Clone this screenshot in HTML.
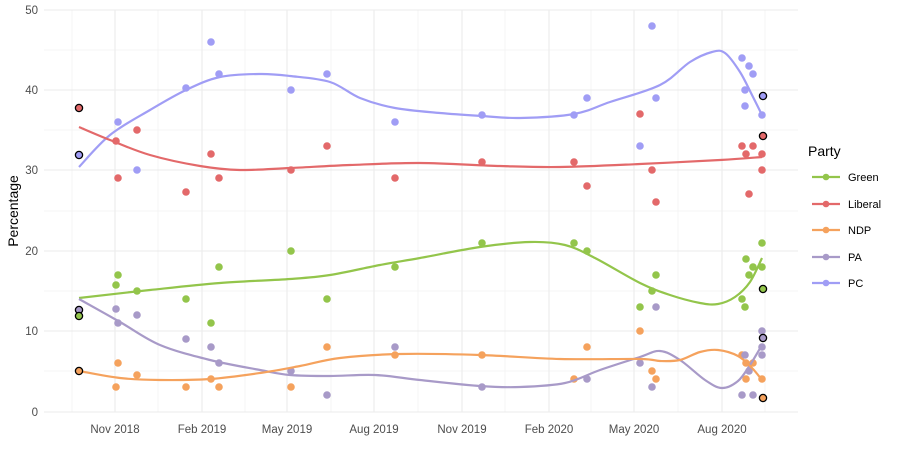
<!DOCTYPE html>
<html><head><meta charset="utf-8"><style>
body{margin:0;background:#fff;font-family:"Liberation Sans",sans-serif}
</style></head><body>
<svg id="s" width="900" height="460" xmlns="http://www.w3.org/2000/svg" font-family="Liberation Sans, sans-serif">
<g stroke="#f3f3f3" stroke-width="0.8">
<line x1="44" x2="798" y1="50" y2="50"/><line x1="44" x2="798" y1="130" y2="130"/><line x1="44" x2="798" y1="211" y2="211"/><line x1="44" x2="798" y1="291" y2="291"/><line x1="44" x2="798" y1="371" y2="371"/>
<line y1="10" y2="412" x1="72" x2="72"/><line y1="10" y2="412" x1="158" x2="158"/><line y1="10" y2="412" x1="245" x2="245"/><line y1="10" y2="412" x1="331" x2="331"/><line y1="10" y2="412" x1="418" x2="418"/><line y1="10" y2="412" x1="505" x2="505"/><line y1="10" y2="412" x1="591" x2="591"/><line y1="10" y2="412" x1="678" x2="678"/><line y1="10" y2="412" x1="765" x2="765"/>
</g>
<g stroke="#ebebeb" stroke-width="1.1">
<line x1="44" x2="798" y1="10" y2="10"/><line x1="44" x2="798" y1="90" y2="90"/><line x1="44" x2="798" y1="170" y2="170"/><line x1="44" x2="798" y1="251" y2="251"/><line x1="44" x2="798" y1="331" y2="331"/><line x1="44" x2="798" y1="412" y2="412"/>
<line y1="10" y2="412" x1="115" x2="115"/><line y1="10" y2="412" x1="202" x2="202"/><line y1="10" y2="412" x1="287" x2="287"/><line y1="10" y2="412" x1="374" x2="374"/><line y1="10" y2="412" x1="462" x2="462"/><line y1="10" y2="412" x1="549" x2="549"/><line y1="10" y2="412" x1="634" x2="634"/><line y1="10" y2="412" x1="722" x2="722"/>
</g>
<g font-size="11.5" fill="#4d4d4d" text-anchor="end">
<text x="38" y="14">50</text><text x="38" y="94">40</text><text x="38" y="174">30</text><text x="38" y="255">20</text><text x="38" y="335">10</text><text x="38" y="416">0</text>
</g>
<g font-size="11.5" fill="#4d4d4d" text-anchor="middle">
<text x="115" y="433">Nov 2018</text><text x="202" y="433">Feb 2019</text><text x="287" y="433">May 2019</text><text x="374" y="433">Aug 2019</text><text x="462" y="433">Nov 2019</text><text x="549" y="433">Feb 2020</text><text x="634" y="433">May 2020</text><text x="722" y="433">Aug 2020</text>
</g>
<text transform="translate(18,211) rotate(-90)" font-size="14" text-anchor="middle" fill="#000">Percentage</text>
<g id="pts"></g><g id="lines"></g><g id="el"></g>
<text x="808" y="156" font-size="14">Party</text>
<g id="leg" font-size="11"></g>
</svg>
<script>
var C={G:"#93c54b",L:"#e3696a",N:"#f5a25d",A:"#a89ac8",P:"#a09df5"};
var ns="http://www.w3.org/2000/svg";
function el(t,a,p){var e=document.createElementNS(ns,t);for(var k in a)e.setAttribute(k,a[k]);document.getElementById(p).appendChild(e);return e;}
var pts=[
[118,122,"P"],[116,141,"L"],[118,178,"L"],[118,275,"G"],[116,285,"G"],[116,309,"A"],[118,323,"A"],[118,363,"N"],[116,387,"N"],
[137,130,"L"],[137,170,"P"],[137,291,"G"],[137,315,"A"],[137,375,"N"],
[186,88,"P"],[186,192,"L"],[186,299,"G"],[186,339,"A"],[186,387,"N"],
[211,42,"P"],[211,154,"L"],[211,323,"G"],[211,347,"A"],[211,379,"N"],
[219,74,"P"],[219,178,"L"],[219,267,"G"],[219,363,"A"],[219,387,"N"],
[291,90,"P"],[291,170,"L"],[291,251,"G"],[291,371,"A"],[291,387,"N"],
[327,74,"P"],[327,146,"L"],[327,299,"G"],[327,347,"N"],[327,395,"A"],
[395,122,"P"],[395,178,"L"],[395,267,"G"],[395,347,"A"],[395,355,"N"],
[482,115,"P"],[482,162,"L"],[482,243,"G"],[482,355,"N"],[482,387,"A"],
[574,115,"P"],[574,162,"L"],[574,243,"G"],[574,379,"N"],
[587,98,"P"],[587,186,"L"],[587,251,"G"],[587,347,"N"],[587,379,"A"],
[640,114,"L"],[640,146,"P"],[640,307,"G"],[640,331,"N"],[640,363,"A"],
[652,26,"P"],[652,170,"L"],[652,291,"G"],[652,371,"N"],[652,387,"A"],
[656,98,"P"],[656,202,"L"],[656,275,"G"],[656,307,"A"],[656,379,"N"],
[742,58,"P"],[742,146,"L"],[742,299,"G"],[742,355,"N"],[742,395,"A"],
[745,90,"P"],[745,106,"P"],[746,154,"L"],[746,259,"G"],[745,307,"G"],[745,355,"A"],[746,363,"N"],[746,379,"N"],
[749,66,"P"],[749,194,"L"],[749,275,"G"],[749,371,"A"],
[753,74,"P"],[753,146,"L"],[753,267,"G"],[753,363,"N"],[753,395,"A"],
[762,115,"P"],[762,154,"L"],[762,170,"L"],[762,243,"G"],[762,267,"G"],[762,331,"A"],[762,347,"A"],[762,355,"A"],[762,379,"N"]];
pts.forEach(function(p){el("circle",{cx:p[0],cy:p[1],r:3.8,fill:C[p[2]]},"pts");});
var L={
P:[[79,167],[110,135],[150,110],[186,90],[220,77],[260,74],[290,76],[330,82],[360,98],[395,108],[440,113],[482,116],[520,118],[574,114],[610,102],[660,85],[690,62],[712,52],[725,53],[740,72],[752,95],[762,115]],
L:[[79,127],[110,140],[150,155],[200,166],[240,170],[290,168],[350,165],[420,163],[500,166],[560,167],[640,164],[720,160],[762,157]],
G:[[79,298],[150,290],[220,283],[290,279],[330,275],[380,265],[420,258],[480,247],[530,242],[565,245],[595,258],[640,283],[670,295],[700,303],[718,304],[735,297],[750,282],[762,258]],
A:[[79,299],[120,322],[160,345],[210,360],[260,370],[290,375],[330,376],[375,375],[420,380],[480,386],[520,387],[565,383],[600,370],[640,357],[660,351],[680,360],[705,380],[722,388],[738,381],[750,365],[762,345]],
N:[[79,371],[120,378],[160,380],[210,379],[260,373],[300,366],[340,358],[400,354],[480,355],[560,359],[640,359],[660,361],[680,360],[700,352],[718,350],[738,356],[752,368],[762,380]]};
function cr(a){var d="M"+a[0][0]+","+a[0][1];for(var i=0;i<a.length-1;i++){var p0=a[i-1]||a[i],p1=a[i],p2=a[i+1],p3=a[i+2]||p2;
d+=" C"+(p1[0]+(p2[0]-p0[0])/6)+","+(p1[1]+(p2[1]-p0[1])/6)+" "+(p2[0]-(p3[0]-p1[0])/6)+","+(p2[1]-(p3[1]-p1[1])/6)+" "+p2[0]+","+p2[1];}return d;}
for(var k in L)el("path",{d:cr(L[k]),fill:"none",stroke:C[k],"stroke-width":2.2},"lines");
[[79,108,"L"],[79,155,"P"],[79,310,"A"],[79,316,"G"],[79,371,"N"],[763,96,"P"],[763,136,"L"],[763,289,"G"],[763,338,"A"],[763,398,"N"]].forEach(function(p){
el("circle",{cx:p[0],cy:p[1],r:3.6,fill:C[p[2]],stroke:"#000","stroke-width":1.3},"el");});
[["Green","G",177],["Liberal","L",204],["NDP","N",230],["PA","A",257],["PC","P",283]].forEach(function(e){
el("line",{x1:812,x2:840,y1:e[2],y2:e[2],stroke:C[e[1]],"stroke-width":2.2},"leg");
el("circle",{cx:826,cy:e[2],r:3.3,fill:C[e[1]]},"leg");
var t=el("text",{x:848,y:e[2]+4},"leg");t.textContent=e[0];});
</script>
</body></html>
